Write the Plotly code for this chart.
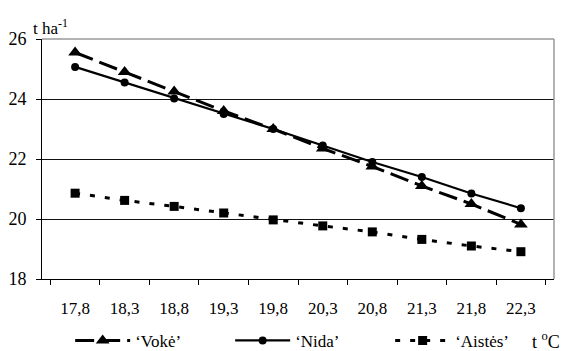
import plotly.graph_objects as go

temps = ["17,8", "18,3", "18,8", "19,3", "19,8", "20,3", "20,8", "21,3", "21,8", "22,3"]
voke = [25.55, 24.9, 24.25, 23.6, 23.0, 22.35, 21.75, 21.1, 20.5, 19.82]
nida = [25.07, 24.55, 24.02, 23.5, 23.0, 22.45, 21.9, 21.4, 20.85, 20.36]
aistes = [20.86, 20.62, 20.42, 20.2, 19.97, 19.77, 19.57, 19.32, 19.1, 18.91]
y_ticks = [18, 20, 22, 24, 26]

FONT = "Liberation Serif, Times New Roman, serif"

fig = go.Figure()
fig.add_trace(go.Scatter(
    x=temps, y=voke, name="‘Vokė’", mode="lines+markers",
    line=dict(color="black", width=3, dash="19px,7px"),
    marker=dict(symbol="triangle-up", size=12, color="black"),
))
fig.add_trace(go.Scatter(
    x=temps, y=nida, name="‘Nida’", mode="lines+markers",
    line=dict(color="black", width=2.2),
    marker=dict(symbol="circle", size=8, color="black"),
))
fig.add_trace(go.Scatter(
    x=temps, y=aistes, name="‘Aistės’", mode="lines+markers",
    line=dict(color="black", width=3, dash="5px,10px"),
    marker=dict(symbol="square", size=9, color="black"),
))

fig.update_layout(
    width=562, height=351,
    margin=dict(l=42, r=8, t=39, b=72, autoexpand=False),
    paper_bgcolor="white", plot_bgcolor="white",
    font=dict(family=FONT, size=17, color="black"),
    showlegend=True,
    legend=dict(
        orientation="h", x=0.055, xanchor="left", y=-0.258, yanchor="middle",
        font=dict(family=FONT, size=17, color="black"),
        itemwidth=55,
        entrywidth=90, entrywidthmode="pixels",
        bgcolor="rgba(0,0,0,0)",
    ),
    xaxis=dict(
        type="category", tickson="boundaries",
        showline=True, linecolor="black", linewidth=1,
        ticks="outside", ticklen=5, tickcolor="black",
        ticklabelstandoff=14,
        showgrid=False, tickfont=dict(family=FONT, size=17),
        fixedrange=True,
    ),
    yaxis=dict(
        range=[18, 26], tickvals=y_ticks,
        showline=True, linecolor="black", linewidth=1,
        ticks="outside", ticklen=5, tickcolor="black",
        ticklabelstandoff=6,
        showgrid=True, gridcolor="#111111", gridwidth=1,
        zeroline=False, tickfont=dict(family=FONT, size=18),
        fixedrange=True,
    ),
    shapes=[
        dict(type="line", xref="paper", yref="paper", x0=0, x1=1, y0=1, y1=1,
             line=dict(color="#999999", width=1.5), layer="above"),
        dict(type="line", xref="paper", yref="paper", x0=1, x1=1, y0=0, y1=1,
             line=dict(color="#999999", width=1.5), layer="above"),
    ],
    annotations=[
        dict(text="t ha<sup>-1</sup>", xref="paper", yref="paper",
             x=-0.022, y=0.995, xanchor="left", yanchor="bottom", showarrow=False,
             font=dict(family=FONT, size=17)),
        dict(text="t <sup>o</sup>C", xref="paper", yref="paper",
             x=1.015, y=-0.258, xanchor="right", yanchor="middle", showarrow=False,
             font=dict(family=FONT, size=18)),
    ],
)

fig.write_html("out.html")
